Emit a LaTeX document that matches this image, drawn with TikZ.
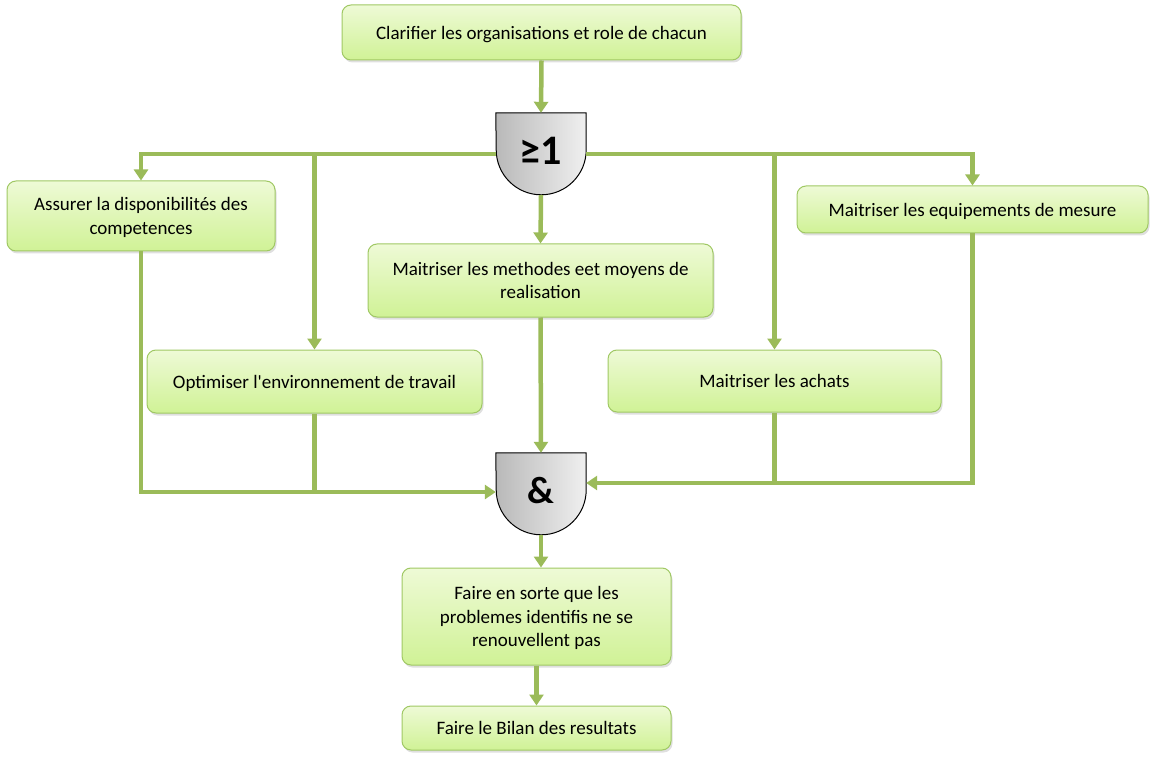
\documentclass[tikz,border=0pt]{standalone}
\usepackage{fontspec}
\setmainfont{Carlito}
\usetikzlibrary{arrows.meta,shadows}
\definecolor{lgreen}{RGB}{155,187,89}
\definecolor{boxtop}{RGB}{238,250,214}
\definecolor{boxbot}{RGB}{208,242,150}
\definecolor{boxline}{RGB}{160,200,100}
\tikzset{
  box/.style={rectangle, rounded corners=9pt, draw=boxline, line width=1pt,
    top color=boxtop, bottom color=boxbot, align=center, font=\fontsize{19}{23.5}\selectfont,
    drop shadow={shadow xshift=1.5pt, shadow yshift=-2.5pt, opacity=0.25},
    inner sep=0pt, text depth=0pt},
  gatebox/.style={rectangle, minimum width=90pt, minimum height=82pt, inner sep=0pt},
  gateshape/.style={draw=black, line width=1pt, left color=gray!55, right color=gray!12},
  conn/.style={draw=lgreen, line width=4.5pt, -{Triangle[length=11pt,width=14pt]}},
  plain/.style={draw=lgreen, line width=4.5pt},
}
\begin{document}
\begin{tikzpicture}[x=1pt,y=-1pt]
\useasboundingbox (0,0) rectangle (1156,759);
% boxes
\node[box, minimum width=399pt, minimum height=55pt] (top) at (541.5,32.5) {Clarifier les organisations et role de chacun};
\node[box, minimum width=268pt, minimum height=70pt] (lbox) at (141,216) {Assurer la disponibilités des\\competences};
\node[box, minimum width=351pt, minimum height=47pt] (rbox) at (972.5,209.5) {Maitriser les equipements de mesure};
\node[box, minimum width=345pt, minimum height=73pt] (mbox) at (540.5,280.5) {Maitriser les methodes eet moyens de\\realisation};
\node[box, minimum width=335pt, minimum height=63pt] (opt) at (314.5,381.5) {Optimiser l\textquotesingle environnement de travail};
\node[box, minimum width=333pt, minimum height=62pt] (ach) at (774.5,381) {Maitriser les achats};
\node[box, minimum width=269pt, minimum height=97pt] (fes) at (536.5,616.5) {Faire en sorte que les\\problemes identifis ne se\\renouvellent pas};
\node[box, minimum width=269pt, minimum height=44pt] (bil) at (536.5,728) {Faire le Bilan des resultats};
% gates
\node[gatebox] (or) at (541,154) {};
\node[gatebox] (and) at (541,494) {};
\path[gateshape] (or.north west) -- (or.north east) -- ([yshift=-37pt]or.north east)
  arc[start angle=0, end angle=-180, radius=45pt] -- cycle;
\path[gateshape] (and.north west) -- (and.north east) -- ([yshift=-37pt]and.north east)
  arc[start angle=0, end angle=-180, radius=45pt] -- cycle;
\node[font=\fontsize{42}{42}\bfseries\selectfont] (orlab) at ([yshift=3pt]or.center) {≥1};
\node[font=\fontsize{38}{38}\bfseries\selectfont] (andlab) at ([yshift=3pt]and.center) {\&};
\coordinate (ain) at ([yshift=2pt]and.west);
\coordinate (bin) at ([yshift=11pt]and.east);
% connectors
\draw[conn] (top.south) -- (or.north);
\draw[conn] (or.west) -| (lbox.north);
\draw[conn] (or.west -| opt.north) -- (opt.north);
\draw[conn] (or.east) -| (rbox.north);
\draw[conn] (or.east -| ach.north) -- (ach.north);
\draw[conn] (or.south) -- (mbox.north);
\draw[conn] (mbox.south) -- (and.north);
\draw[conn] (lbox.south) |- (ain);
\draw[plain] (opt.south) -- (opt.south |- ain);
\draw[conn] (rbox.south) |- (bin);
\draw[plain] (ach.south) -- (ach.south |- bin);
\draw[conn] (and.south) -- (and.south |- fes.north);
\draw[conn] (fes.south) -- (bil.north);
\end{tikzpicture}
\end{document}
